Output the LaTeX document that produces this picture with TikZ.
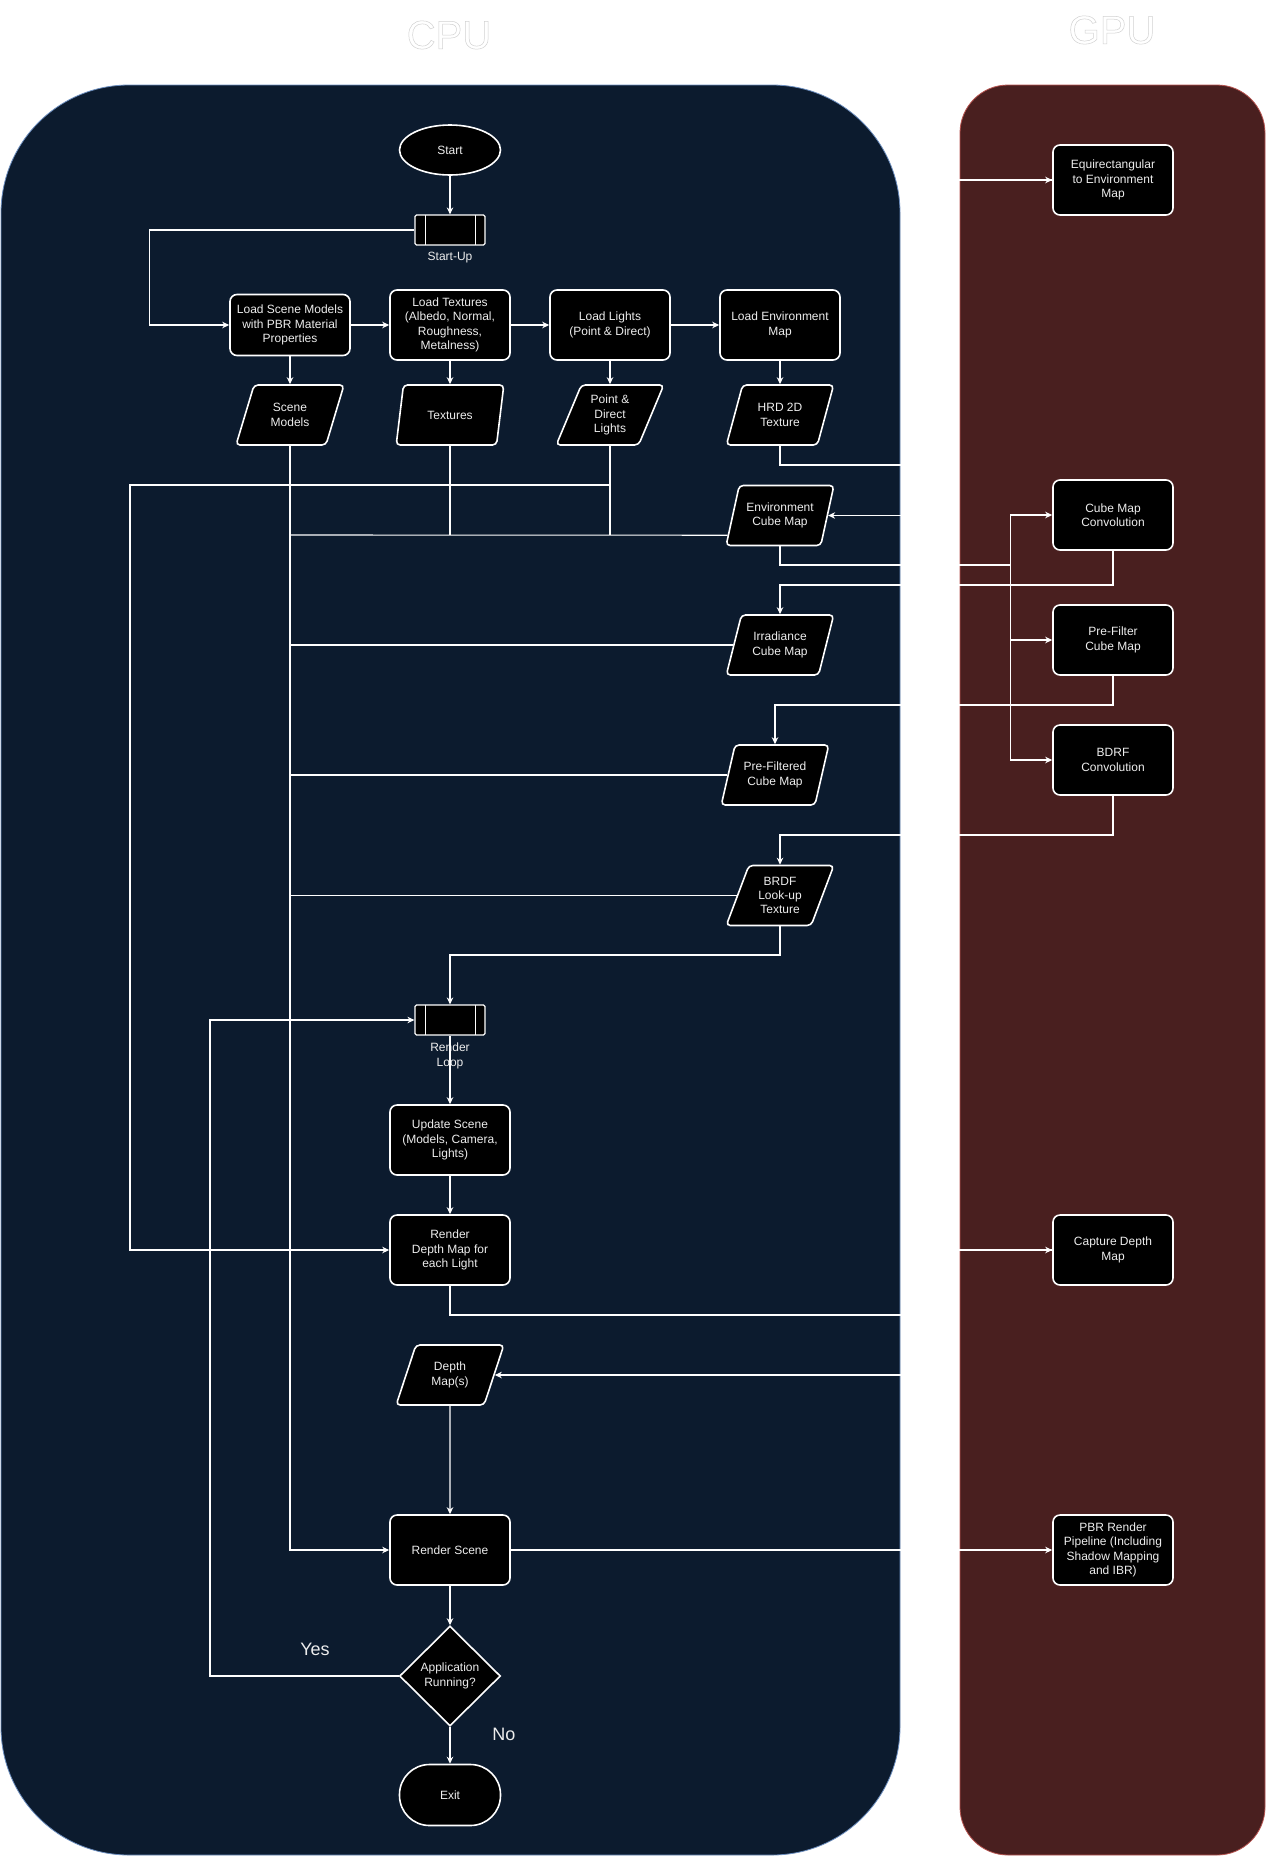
\documentclass[tikz,border=0pt]{standalone}
\usepackage{fontspec}
\setmainfont{Liberation Sans}
\usetikzlibrary{shapes.geometric,arrows.meta,calc}
\definecolor{cpubg}{HTML}{0C1B2E}
\definecolor{gpubg}{HTML}{491F1F}
\definecolor{cpuedge}{HTML}{6C8EBF}
\definecolor{gpuedge}{HTML}{B85450}
\definecolor{txt}{HTML}{EDEDED}
\begin{document}
\begin{tikzpicture}[x=1pt,y=-1pt,
  every node/.style={font=\fontsize{12}{14.4}\selectfont, text=txt, align=center, inner sep=0pt},
  procbox/.style={draw=white, fill=black, line width=1.6pt, rounded corners=7pt, minimum width=120pt, minimum height=70pt},
  databox/.style={trapezium, trapezium left angle=67, trapezium right angle=113, trapezium stretches=true, draw=white, fill=black, line width=1.6pt, rounded corners=4pt, minimum width=108pt, minimum height=60pt},
  subbox/.style={draw=white, fill=black, line width=1.2pt, rounded corners=1.5pt, minimum width=70pt, minimum height=30pt,
    path picture={\draw[white, line width=1pt] ([xshift=10pt]path picture bounding box.north west) -- ([xshift=10pt]path picture bounding box.south west) ([xshift=-10pt]path picture bounding box.north east) -- ([xshift=-10pt]path picture bounding box.south east);}},
  conn/.style={draw=white, line width=1.1pt},
  arrline/.style={conn, -{Stealth[length=7pt,width=6.5pt]}},
  bigtitle/.style={font=\fontsize{40}{40}\selectfont, text=black!18},
  yesno/.style={font=\fontsize{18}{18}\selectfont, text=txt}
]
\useasboundingbox (0,0) rectangle (1266,1856);
\fill[white] (0,0) rectangle (1266,1856);
% panels
\path[fill=cpubg, draw=cpuedge, line width=0.8pt, rounded corners=128pt] (1,85) rectangle (900,1855);
\path[fill=gpubg, draw=gpuedge, line width=0.8pt, rounded corners=48pt] (960,85) rectangle (1265,1855);
\node[bigtitle] (cputitle) at (449,35) {\special{pdf:code 1 Tr 0.5 w}CPU\special{pdf:code 0 Tr}};
\node[bigtitle] (gputitle) at (1112,30) {\special{pdf:code 1 Tr 0.5 w}GPU\special{pdf:code 0 Tr}};

% nodes
\node[ellipse, draw=white, fill=black, line width=1.6pt, minimum width=101pt, minimum height=50pt] (start) at (450,150) {Start};
\node[subbox] (startup) at (450,230) {};
\node (startuplbl) at (450,258) {Start-Up};
\node[procbox, minimum height=61pt] (lsm) at (290,325) {Load Scene Models\\with PBR Material\\Properties};
\node[procbox] (ltex) at (450,325) {Load Textures\\(Albedo, Normal,\\Roughness,\\Metalness)};
\node[procbox] (llight) at (610,325) {Load Lights\\(Point \& Direct)};
\node[procbox] (lenv) at (780,325) {Load Environment\\Map};
\node[databox] (dsm) at (290,415) {Scene\\Models};
\node[databox] (dtex) at (450,415) {Textures};
\node[databox] (dlight) at (610,415) {Point \&\\Direct\\Lights};
\node[databox] (dhrd) at (780,415) {HRD 2D\\Texture};
\node[databox] (denv) at (780,515.5) {Environment\\Cube Map};
\node[databox] (dirr) at (780,645) {Irradiance\\Cube Map};
\node[databox] (dpre) at (775,775) {Pre-Filtered\\Cube Map};
\node[databox] (dbrdf) at (780,895.5) {BRDF\\Look-up\\Texture};
\node[procbox] (equi) at (1113,180) {Equirectangular\\to Environment\\Map};
\node[procbox] (cmc) at (1113,515) {Cube Map\\Convolution};
\node[procbox] (pfc) at (1113,640) {Pre-Filter\\Cube Map};
\node[procbox] (bdrf) at (1113,760) {BDRF\\Convolution};
\node[subbox] (rloop) at (450,1020) {};
\node (rlooplbl) at (450,1056) {Render\\Loop};
\node[procbox] (upd) at (450,1140) {Update Scene\\(Models, Camera,\\Lights)};
\node[procbox] (rdm) at (450,1250) {Render\\Depth Map for\\each Light};
\node[procbox] (cdm) at (1113,1250) {Capture Depth\\Map};
\node[databox] (ddm) at (450,1375) {Depth\\Map(s)};
\node[procbox] (rs) at (450,1550) {Render Scene};
\node[procbox] (pbr) at (1113,1550) {PBR Render\\Pipeline (Including\\Shadow Mapping\\and IBR)};
\node[diamond, draw=white, fill=black, line width=1.6pt, minimum width=101pt, minimum height=100pt] (dec) at (450,1676) {Application\\Running?};
\node[draw=white, fill=black, line width=1.6pt, rounded corners=30pt, minimum width=101pt, minimum height=61pt] (exit) at (450,1795) {Exit};
\node[yesno] (yes) at (315,1649) {Yes};
\node[yesno] (no) at (504,1734) {No};

% gap / junction coordinates
\coordinate (gapA) at (930,465);
\coordinate (gapB) at (930,1315);
\coordinate (jn) at (1010.5,565);
\coordinate (trunkE) at (290,535);
\coordinate (lightturn) at (130,485);
\coordinate (loopturn) at (210,1020);
\coordinate (envL) at ($(denv.bottom left corner)!0.18!(denv.top left corner)$);

% connectors
\draw[arrline] (start) -- (startup);
\draw[arrline] (startup.west) -- ++(-265,0) |- (lsm.west);
\draw[arrline] (lsm) -- (ltex);
\draw[arrline] (ltex) -- (llight);
\draw[arrline] (llight) -- (lenv);
\draw[arrline] (lsm) -- (dsm);
\draw[arrline] (ltex) -- (dtex);
\draw[arrline] (llight) -- (dlight);
\draw[arrline] (lenv) -- (dhrd);
\draw[arrline] (dhrd.south) |- (gapA) |- (equi.west);
\draw[arrline] (equi.west) -| (gapA |- denv.east) -- (denv.east);
\draw[conn] (denv.south) |- (jn);
\draw[arrline] (jn) |- (cmc.west);
\draw[arrline] (jn) |- (pfc.west);
\draw[arrline] (jn) |- (bdrf.west);
\draw[arrline] (cmc.south) -- (cmc.south |- 0,585) -| (dirr.north);
\draw[arrline] (pfc.south) -- (pfc.south |- 0,705) -| (dpre.north);
\draw[arrline] (bdrf.south) -- (bdrf.south |- 0,835) -| (dbrdf.north);
\draw[arrline] (dbrdf.south) -- (dbrdf.south |- 0,955) -| (rloop.north);
\draw[arrline] (dsm.south) |- (rs.west);
\draw[conn] (envL) -- (trunkE);
\draw[conn] (dtex.south) -- (dtex.south |- trunkE);
\draw[conn] (dlight.south) -- (dlight.south |- trunkE);
\draw[arrline] (dlight.south) |- (lightturn) |- (rdm.west);
\draw[conn] (dirr.west) -- (dirr.west -| trunkE);
\draw[conn] (dpre.west) -- (dpre.west -| trunkE);
\draw[conn] (dbrdf.west) -- (dbrdf.west -| trunkE);
\draw[arrline] (rloop) -- (upd);
\draw[arrline] (upd) -- (rdm);
\draw[arrline] (rdm.south) |- (gapB) |- (cdm.west);
\draw[arrline] (cdm.west) -| (gapB |- ddm.east) -- (ddm.east);
\draw[arrline] (ddm) -- (rs);
\draw[arrline] (rs) -- (pbr);
\draw[arrline] (rs) -- (dec);
\draw[arrline] (dec) -- (exit);
\draw[arrline] (dec.west) -| (loopturn) -- (rloop.west);
\end{tikzpicture}
\end{document}
